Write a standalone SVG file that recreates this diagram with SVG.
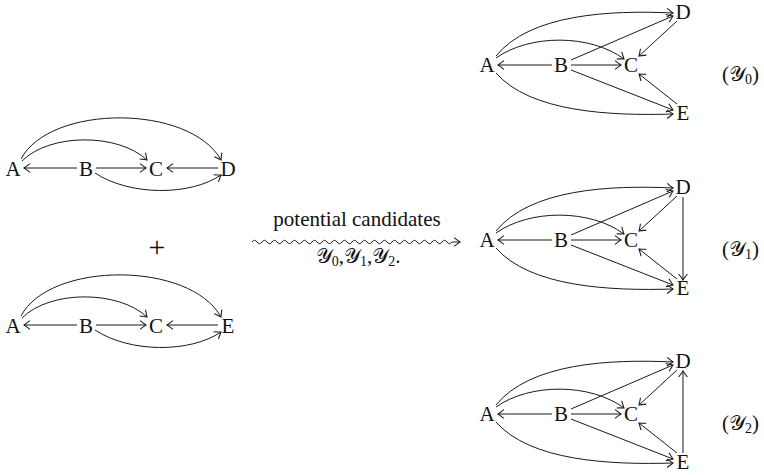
<svg xmlns="http://www.w3.org/2000/svg" width="764" height="475" viewBox="0 0 764 475">
  <style>
    .lbl { font-family: "Liberation Serif", "DejaVu Serif", serif; font-size: 21px; fill: #111; text-anchor: middle; }
    .cap { font-family: "Liberation Serif", "DejaVu Serif", serif; font-size: 21px; fill: #111; }
    .sub { font-size: 14px; }
    .e { fill: none; stroke: #1a1a1a; stroke-width: 1; marker-end: url(#to); }
  </style>
  <defs>
    <marker id="to" markerUnits="userSpaceOnUse" markerWidth="12" markerHeight="12" viewBox="-6 -5 8 10" refX="0" refY="0" orient="auto" overflow="visible">
      <path d="M-5,-3.6 Q-1.4,-0.9 0,0 Q-1.4,0.9 -5,3.6" fill="none" stroke="#1a1a1a" stroke-width="0.9"/>
    </marker>
  </defs>

  <!-- left upper graph: A, B, C, D -->
  <g id="left-top">
    <g id="lt-A"><text class="lbl" x="13" y="176">A</text></g>
    <g id="lt-B"><text class="lbl" x="86" y="176">B</text></g>
    <g id="lt-C"><text class="lbl" x="156" y="176">C</text></g>
    <g id="lt-D"><text class="lbl" x="228" y="176">D</text></g>
    <g id="lt-edges">
      <path class="e" d="M77,168 L24,168"/>
      <path class="e" d="M96,168 L146,168"/>
      <path class="e" d="M218,168 L167,168"/>
      <path class="e" d="M22,161 C50,133 118,133 147,160"/>
      <path class="e" d="M21,159 C50,104 190,104 221,160"/>
      <path class="e" d="M95,173 C130,196 190,196 221,175"/>
    </g>
  </g>

  <!-- plus sign between the two input graphs -->
  <text class="lbl" x="157" y="257" style="font-size:30px">+</text>

  <!-- left lower graph: A, B, C, E -->
  <g id="left-bottom">
    <g id="lb-A"><text class="lbl" x="13" y="333">A</text></g>
    <g id="lb-B"><text class="lbl" x="86" y="333">B</text></g>
    <g id="lb-C"><text class="lbl" x="156" y="333">C</text></g>
    <g id="lb-E"><text class="lbl" x="228" y="333">E</text></g>
    <g id="lb-edges">
      <path class="e" d="M77,325 L24,325"/>
      <path class="e" d="M96,325 L146,325"/>
      <path class="e" d="M218,325 L167,325"/>
      <path class="e" d="M22,318 C50,290 118,290 147,317"/>
      <path class="e" d="M21,316 C50,261 190,261 221,317"/>
      <path class="e" d="M95,330 C130,353 190,353 221,332"/>
    </g>
  </g>

  <!-- squiggly arrow with caption -->
  <g id="transition">
    <text class="lbl" x="357" y="226">potential candidates</text>
    <path class="e" d="M252,242 q2.5,-3.4 5,0 t5,0 t5,0 t5,0 t5,0 t5,0 t5,0 t5,0 t5,0 t5,0 t5,0 t5,0 t5,0 t5,0 t5,0 t5,0 t5,0 t5,0 t5,0 t5,0 t5,0 t5,0 t5,0 t5,0 t5,0 t5,0 t5,0 t5,0 t5,0 t5,0 t5,0 t5,0 t5,0 t5,0 t5,0 t5,0 t5,0 t5,0 t5,0 t5,0 l4,0 l4,0"/>
    <text class="lbl" x="358" y="263">𝒴<tspan class="sub" dy="3">0</tspan><tspan dy="-3">,𝒴</tspan><tspan class="sub" dy="3">1</tspan><tspan dy="-3">,𝒴</tspan><tspan class="sub" dy="3">2</tspan><tspan dy="-3">.</tspan></text>
  </g>

  <!-- candidate Y0 -->
  <g id="y0">
    <g id="y0-A"><text class="lbl" x="487" y="72">A</text></g>
    <g id="y0-B"><text class="lbl" x="561" y="72">B</text></g>
    <g id="y0-C"><text class="lbl" x="631" y="72">C</text></g>
    <g id="y0-D"><text class="lbl" x="683" y="19">D</text></g>
    <g id="y0-E"><text class="lbl" x="683" y="120">E</text></g>
    <g id="y0-edges">
      <path class="e" d="M552,65 L498,65"/>
      <path class="e" d="M571,65 L621,65"/>
      <path class="e" d="M571,60 L673,16"/>
      <path class="e" d="M571,70 L673,110"/>
      <path class="e" d="M677,21 L639,56"/>
      <path class="e" d="M677,104 L639,74"/>
      <path class="e" d="M496,58 C530,34 590,34 624,59"/>
      <path class="e" d="M496,56 C530,14 610,10 673,13"/>
      <path class="e" d="M496,73 C530,112 610,116 673,114"/>
    </g>
    <text class="cap" x="722" y="81">(𝒴<tspan class="sub" dy="3">0</tspan><tspan dy="-3">)</tspan></text>
  </g>

  <!-- candidate Y1 -->
  <g id="y1">
    <g id="y1-A"><text class="lbl" x="487" y="247">A</text></g>
    <g id="y1-B"><text class="lbl" x="561" y="247">B</text></g>
    <g id="y1-C"><text class="lbl" x="631" y="247">C</text></g>
    <g id="y1-D"><text class="lbl" x="683" y="194">D</text></g>
    <g id="y1-E"><text class="lbl" x="683" y="295">E</text></g>
    <g id="y1-edges">
      <path class="e" d="M552,240 L498,240"/>
      <path class="e" d="M571,240 L621,240"/>
      <path class="e" d="M571,235 L673,191"/>
      <path class="e" d="M571,245 L673,285"/>
      <path class="e" d="M677,196 L639,231"/>
      <path class="e" d="M677,279 L639,249"/>
      <path class="e" d="M496,233 C530,209 590,209 624,234"/>
      <path class="e" d="M496,231 C530,189 610,185 673,188"/>
      <path class="e" d="M496,248 C530,287 610,291 673,289"/>
      <path class="e" d="M683,197 L683,280"/>
    </g>
    <text class="cap" x="722" y="256">(𝒴<tspan class="sub" dy="3">1</tspan><tspan dy="-3">)</tspan></text>
  </g>

  <!-- candidate Y2 -->
  <g id="y2">
    <g id="y2-A"><text class="lbl" x="487" y="421">A</text></g>
    <g id="y2-B"><text class="lbl" x="561" y="421">B</text></g>
    <g id="y2-C"><text class="lbl" x="631" y="421">C</text></g>
    <g id="y2-D"><text class="lbl" x="683" y="368">D</text></g>
    <g id="y2-E"><text class="lbl" x="683" y="469">E</text></g>
    <g id="y2-edges">
      <path class="e" d="M552,414 L498,414"/>
      <path class="e" d="M571,414 L621,414"/>
      <path class="e" d="M571,409 L673,365"/>
      <path class="e" d="M571,419 L673,459"/>
      <path class="e" d="M677,370 L639,405"/>
      <path class="e" d="M677,453 L639,423"/>
      <path class="e" d="M496,407 C530,383 590,383 624,408"/>
      <path class="e" d="M496,405 C530,363 610,359 673,362"/>
      <path class="e" d="M496,422 C530,461 610,465 673,463"/>
      <path class="e" d="M683,453 L683,371"/>
    </g>
    <text class="cap" x="722" y="430">(𝒴<tspan class="sub" dy="3">2</tspan><tspan dy="-3">)</tspan></text>
  </g>
</svg>
